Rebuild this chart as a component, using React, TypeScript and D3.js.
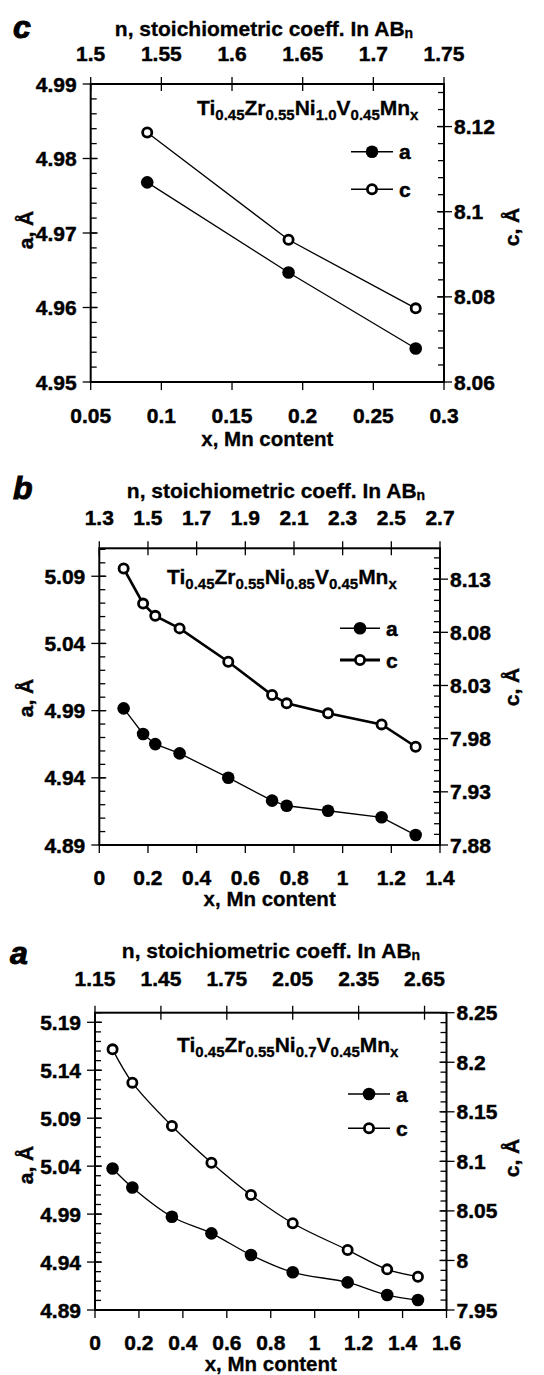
import React from 'react';
import * as d3 from 'd3';

const FONT = '"Liberation Sans", Arial, Helvetica, sans-serif';

// panel c : Ti0.45Zr0.55Ni1.0V0.45Mnx
const cMn = [0.09, 0.19, 0.28];
const cLatA = [4.9768, 4.9647, 4.9545];
const cLatC = [8.1186, 8.0934, 8.0773];
const cBottomTicks = [0.05, 0.1, 0.15, 0.2, 0.25, 0.3];
const cTopTicks = [1.5, 1.55, 1.6, 1.65, 1.7, 1.75];
const cLeftTicks = [4.95, 4.96, 4.97, 4.98, 4.99];
const cRightTicks = [8.06, 8.08, 8.1, 8.12];

// panel b : Ti0.45Zr0.55Ni0.85V0.45Mnx
const bMn = [0.1, 0.18, 0.23, 0.33, 0.53, 0.71, 0.77, 0.94, 1.16, 1.3];
const bLatA = [4.9917, 4.9726, 4.9651, 4.9582, 4.9401, 4.923, 4.9192, 4.9155, 4.9106, 4.8974];
const bLatC = [8.14, 8.107, 8.0955, 8.0837, 8.0523, 8.021, 8.0132, 8.0038, 7.9934, 7.9724];
const bBottomTicks = [0, 0.2, 0.4, 0.6, 0.8, 1, 1.2, 1.4];
const bTopTicks = [1.3, 1.5, 1.7, 1.9, 2.1, 2.3, 2.5, 2.7];
const bLeftTicks = [4.89, 4.94, 4.99, 5.04, 5.09];
const bRightTicks = [7.88, 7.93, 7.98, 8.03, 8.08, 8.13];

// panel a : Ti0.45Zr0.55Ni0.7V0.45Mnx
const aMn = [0.08, 0.17, 0.35, 0.53, 0.71, 0.9, 1.15, 1.33, 1.47];
const aLatA = [5.0376, 5.0178, 4.9872, 4.9699, 4.9473, 4.9293, 4.9188, 4.9056, 4.9004];
const aLatC = [8.213, 8.1794, 8.1357, 8.0986, 8.066, 8.0375, 8.0105, 7.991, 7.9836];
const aBottomTicks = [0, 0.2, 0.4, 0.6, 0.8, 1, 1.2, 1.4, 1.6];
const aTopTicks = [1.15, 1.45, 1.75, 2.05, 2.35, 2.65];
const aLeftTicks = [4.89, 4.94, 4.99, 5.04, 5.09, 5.14, 5.19];
const aRightTicks = [7.95, 8, 8.05, 8.1, 8.15, 8.2, 8.25];

const fmt = (v: number) => String(+v.toFixed(3));

const panels = [
  {
    letter: 'c', letterX: 13, letterY: 38,
    left: 90.7, right: 444, top: 84, bottom: 382,
    xDomain: [0.05, 0.3], nOffset: 1.45,
    aDomain: [4.95, 4.99], cDomain: [8.06, 8.13],
    aMinor: 0.002, cMinor: 0.004,
    xs: cMn, as: cLatA, cs: cLatC,
    bottomTicks: cBottomTicks, topTicks: cTopTicks, leftTicks: cLeftTicks, rightTicks: cRightTicks,
    titleX: 264, titleY: 28, topTickY: 53, bottomTickY: 415, xLabelY: 438,
    aLabelY: 230, cLabelY: 227,
    formula: [['Ti', 0], ['0.45', 1], ['Zr', 0], ['0.55', 1], ['Ni', 0], ['1.0', 1], ['V', 0], ['0.45', 1], ['Mn', 0], ['x', 1]],
    formulaX: 197, formulaY: 108,
    legX1: 351, legX2: 393, legA: 151.7, legC: 189.3,
    cWidth: 1.3, smooth: false,
  },
  {
    letter: 'b', letterX: 13, letterY: 499,
    left: 99.3, right: 440, top: 548.3, bottom: 845,
    xDomain: [0, 1.4], nOffset: 1.3,
    aDomain: [4.89, 5.1108], cDomain: [7.88, 8.159],
    aMinor: 0.01, cMinor: 0.01,
    xs: bMn, as: bLatA, cs: bLatC,
    bottomTicks: bBottomTicks, topTicks: bTopTicks, leftTicks: bLeftTicks, rightTicks: bRightTicks,
    titleX: 276, titleY: 490, topTickY: 517, bottomTickY: 877, xLabelY: 898,
    aLabelY: 698, cLabelY: 687,
    formula: [['Ti', 0], ['0.45', 1], ['Zr', 0], ['0.55', 1], ['Ni', 0], ['0.85', 1], ['V', 0], ['0.45', 1], ['Mn', 0], ['x', 1]],
    formulaX: 167, formulaY: 577,
    legX1: 340, legX2: 380, legA: 628.3, legC: 660,
    cWidth: 2.6, smooth: false,
  },
  {
    letter: 'a', letterX: 10, letterY: 964,
    left: 95, right: 446.5, top: 1012.7, bottom: 1310,
    xDomain: [0, 1.6], nOffset: 1.15,
    aDomain: [4.89, 5.2], cDomain: [7.95, 8.25],
    aMinor: 0.01, cMinor: 0.01,
    xs: aMn, as: aLatA, cs: aLatC,
    bottomTicks: aBottomTicks, topTicks: aTopTicks, leftTicks: aLeftTicks, rightTicks: aRightTicks,
    titleX: 271, titleY: 950, topTickY: 978, bottomTickY: 1342, xLabelY: 1363,
    aLabelY: 1165, cLabelY: 1158,
    formula: [['Ti', 0], ['0.45', 1], ['Zr', 0], ['0.55', 1], ['Ni', 0], ['0.7', 1], ['V', 0], ['0.45', 1], ['Mn', 0], ['x', 1]],
    formulaX: 177, formulaY: 1045,
    legX1: 348, legX2: 390, legA: 1094, legC: 1128.3,
    cWidth: 1.3, smooth: true,
  },
];

const heavy = { fontFamily: FONT, fontWeight: 700, fill: '#000', stroke: '#000', strokeWidth: 0.45 } as const;

function Panel({ p }: { p: any }) {
  const x = d3.scaleLinear().domain(p.xDomain).range([p.left, p.right]);
  const n = d3.scaleLinear()
    .domain([p.xDomain[0] + p.nOffset, p.xDomain[1] + p.nOffset])
    .range([p.left, p.right]);
  const yA = d3.scaleLinear().domain(p.aDomain).range([p.bottom, p.top]);
  const yC = d3.scaleLinear().domain(p.cDomain).range([p.bottom, p.top]);
  const curve = p.smooth ? d3.curveCatmullRom.alpha(0.5) : d3.curveLinear;

  const lineA = d3.line<number>().x((_, i) => x(p.xs[i])).y((d) => yA(d)).curve(curve);
  const lineC = d3.line<number>().x((_, i) => x(p.xs[i])).y((d) => yC(d)).curve(curve);

  const minorA = d3.range(p.aDomain[0], p.aDomain[1] + 1e-9, p.aMinor);
  const minorC = d3.range(p.cDomain[0], p.cDomain[1] + 1e-9, p.cMinor);

  const tickStyle = { stroke: '#000', strokeWidth: 1.3 };
  const num = { ...heavy, fontSize: 21 };

  return (
    <g>
      <text x={p.letterX} y={p.letterY}
        style={{ ...heavy, strokeWidth: 1, fontStyle: 'italic', fontSize: 32 }}>
        {p.letter}
      </text>
      <text x={p.titleX} y={p.titleY} dominantBaseline="central" textAnchor="middle"
        style={{ ...heavy, strokeWidth: 0.3, fontSize: 21 }}>
        n, stoichiometric coeff. In AB<tspan fontSize={14} dy={5}>n</tspan>
      </text>

      {/* minor ticks */}
      {minorA.map((v, i) => (
        <line key={'ma' + i} x1={p.left} x2={p.left + 6} y1={yA(v)} y2={yA(v)} {...tickStyle} />
      ))}
      {minorC.map((v, i) => (
        <line key={'mc' + i} x1={p.right - 6} x2={p.right} y1={yC(v)} y2={yC(v)} {...tickStyle} />
      ))}

      {/* left axis */}
      {p.leftTicks.map((v: number) => (
        <g key={'l' + v}>
          <line x1={p.left - 8} x2={p.left + 7} y1={yA(v)} y2={yA(v)} {...tickStyle} />
          <text x={p.left - 14} y={yA(v)} textAnchor="end" dominantBaseline="central" style={num}>{fmt(v)}</text>
        </g>
      ))}
      {/* right axis */}
      {p.rightTicks.map((v: number) => (
        <g key={'r' + v}>
          <line x1={p.right - 7} x2={p.right + 8} y1={yC(v)} y2={yC(v)} {...tickStyle} />
          <text x={p.right + 10} y={yC(v)} dominantBaseline="central" style={num}>{fmt(v)}</text>
        </g>
      ))}
      {/* bottom axis */}
      {p.bottomTicks.map((v: number) => (
        <g key={'b' + v}>
          <line x1={x(v)} x2={x(v)} y1={p.bottom} y2={p.bottom + 8} {...tickStyle} />
          <text x={x(v)} y={p.bottomTickY} textAnchor="middle" dominantBaseline="central" style={num}>{fmt(v)}</text>
        </g>
      ))}
      {/* top axis */}
      {p.topTicks.map((v: number) => (
        <g key={'t' + v}>
          <line x1={n(v)} x2={n(v)} y1={p.top - 7} y2={p.top + 7} {...tickStyle} />
          <text x={n(v)} y={p.topTickY} textAnchor="middle" dominantBaseline="central" style={num}>{fmt(v)}</text>
        </g>
      ))}

      {/* frame */}
      <rect x={p.left} y={p.top} width={p.right - p.left} height={p.bottom - p.top}
        fill="none" stroke="#000" strokeWidth={2} />

      <text x={(p.left + p.right) / 2} y={p.xLabelY} textAnchor="middle" dominantBaseline="central"
        style={{ ...heavy, strokeWidth: 0.3, fontSize: 20.5 }}>x, Mn content</text>
      <text transform={`translate(25,${p.aLabelY}) rotate(-90)`} textAnchor="middle" dominantBaseline="central"
        style={{ ...heavy, fontSize: 21 }}>a, Å</text>
      <text transform={`translate(511,${p.cLabelY}) rotate(-90)`} textAnchor="middle" dominantBaseline="central"
        style={{ ...heavy, fontSize: 21 }}>c, Å</text>

      {/* formula */}
      <text x={p.formulaX} y={p.formulaY + 7} style={{ ...heavy, strokeWidth: 0.3, fontSize: 21 }}>
        {p.formula.map((s: any, i: number) => {
          const prevSub = i > 0 && p.formula[i - 1][1];
          const dy = s[1] ? (prevSub ? 0 : 5) : prevSub ? -5 : 0;
          return (
            <tspan key={i} dy={dy} fontSize={s[1] ? 15 : 21}>{s[0]}</tspan>
          );
        })}
      </text>

      {/* series */}
      <path d={lineA(p.as) || ''} fill="none" stroke="#000" strokeWidth={1.3} />
      <path d={lineC(p.cs) || ''} fill="none" stroke="#000" strokeWidth={p.cWidth} />
      {p.as.map((v: number, i: number) => (
        <circle key={'pa' + i} cx={x(p.xs[i])} cy={yA(v)} r={6.3} fill="#000" />
      ))}
      {p.cs.map((v: number, i: number) => (
        <circle key={'pc' + i} cx={x(p.xs[i])} cy={yC(v)} r={4.6} fill="#fff" stroke="#000" strokeWidth={2.8} />
      ))}

      {/* legend */}
      <line x1={p.legX1} x2={p.legX2} y1={p.legA} y2={p.legA} stroke="#000" strokeWidth={1.5} />
      <circle cx={(p.legX1 + p.legX2) / 2} cy={p.legA} r={6.3} fill="#000" />
      <text x={p.legX2 + 6} y={p.legA} dominantBaseline="central" style={{ ...heavy, fontSize: 21 }}>a</text>
      <line x1={p.legX1} x2={p.legX2} y1={p.legC} y2={p.legC} stroke="#000" strokeWidth={p.cWidth + 0.2} />
      <circle cx={(p.legX1 + p.legX2) / 2} cy={p.legC} r={4.6} fill="#fff" stroke="#000" strokeWidth={2.8} />
      <text x={p.legX2 + 6} y={p.legC} dominantBaseline="central" style={{ ...heavy, fontSize: 21 }}>c</text>
    </g>
  );
}

export default function App() {
  return (
    <svg width={544} height={1375} style={{ position: 'absolute', left: 0, top: 0, background: '#fff' }}>
      <rect width={544} height={1375} fill="#fff" />
      {panels.map((p) => (
        <Panel key={p.letter} p={p} />
      ))}
    </svg>
  );
}
